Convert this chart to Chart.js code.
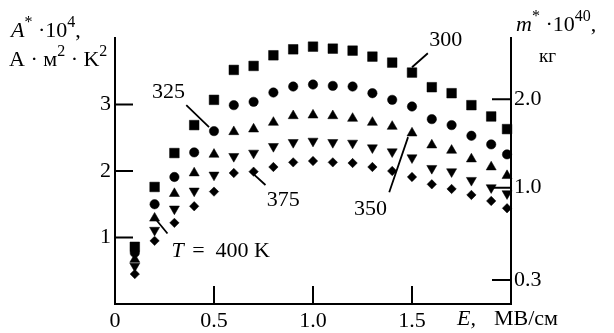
<!DOCTYPE html>
<html>
<head>
<meta charset="utf-8">
<script src="https://cdn.jsdelivr.net/npm/chart.js@4.4.1/dist/chart.umd.min.js"></script>
<style>
  body { margin: 0; background: #fff; }
  canvas { display: block; }
</style>
</head>
<body>
<canvas id="myChart" width="614" height="333"></canvas>
<script>
// E, MV/cm
const E = [0.1, 0.2, 0.3, 0.4, 0.5, 0.6, 0.7, 0.8, 0.9, 1.0, 1.1, 1.2, 1.3, 1.4, 1.5, 1.6, 1.7, 1.8, 1.9, 1.98]
// A*·10^4 for each temperature
const a300 = [0.86, 1.76, 2.27, 2.69, 3.07, 3.52, 3.58, 3.74, 3.83, 3.87, 3.84, 3.81, 3.72, 3.63, 3.48, 3.26, 3.17, 2.99, 2.82, 2.63]
const a325 = [0.77, 1.50, 1.91, 2.28, 2.60, 2.99, 3.04, 3.18, 3.27, 3.30, 3.28, 3.27, 3.17, 3.07, 2.97, 2.78, 2.69, 2.53, 2.40, 2.25]
const a350 = [0.67, 1.29, 1.66, 1.97, 2.25, 2.59, 2.63, 2.73, 2.83, 2.84, 2.83, 2.79, 2.73, 2.67, 2.57, 2.39, 2.31, 2.18, 2.06, 1.93]
const a375 = [0.57, 1.11, 1.43, 1.70, 1.94, 2.22, 2.27, 2.37, 2.43, 2.45, 2.43, 2.42, 2.35, 2.29, 2.20, 2.04, 1.99, 1.86, 1.75, 1.66]
const a400 = [0.45, 0.95, 1.22, 1.47, 1.69, 1.97, 1.99, 2.06, 2.13, 2.15, 2.13, 2.12, 2.06, 2.00, 1.91, 1.80, 1.73, 1.64, 1.55, 1.44]

const xTicks = [0, 0.5, 1.0, 1.5]
const xTickLabels = ['0', '0.5', '1.0', '1.5']
const yTicks = [1, 2, 3]
const yTickLabels = ['1', '2', '3']
// right axis (m*·10^40): positions on the left scale, and their labels
const y2TickPos = [3.08, 1.75, 0.36]
const y2TickLabels = ['2.0', '1.0', '0.3']

// curve labels: [text, x, y, leader x1, y1, x2, y2] in data units
const curveLabels = [
  ['300', 1.67, 3.97, 1.58, 3.77, 1.50, 3.56],
  ['325', 0.27, 3.19, 0.36, 2.99, 0.475, 2.66],
  ['350', 1.29, 1.43, 1.385, 1.68, 1.48, 2.51],
  ['375', 0.85, 1.56, 0.69, 1.98, 0.76, 1.79]
]

const FONT = '"Liberation Serif", "DejaVu Serif", serif'
const tickFont = { family: FONT, size: 22 }

function pts(ys) { return ys.map((y, i) => ({ x: E[i], y: y })) }

function ds(ys, style, r, rot) {
  return {
    data: pts(ys), pointStyle: style, pointRadius: r, pointRotation: rot || 0,
    backgroundColor: '#000', borderColor: '#000', borderWidth: 0.5,
    showLine: false, clip: false
  }
}

const decor = {
  id: 'decor',
  afterDraw(chart) {
    const c = chart.ctx
    const xs = chart.scales.x, ys = chart.scales.y
    const a = chart.chartArea
    c.save()
    c.strokeStyle = '#000'
    c.lineWidth = 2
    // inward tick marks
    c.beginPath()
    yTicks.forEach(v => { const p = ys.getPixelForValue(v); c.moveTo(a.left, p); c.lineTo(a.left + 18, p) })
    xTicks.slice(1).forEach(v => { const p = xs.getPixelForValue(v); c.moveTo(p, a.bottom); c.lineTo(p, a.bottom - 18) })
    y2TickPos.forEach(v => { const p = ys.getPixelForValue(v); c.moveTo(a.right - 19, p); c.lineTo(a.right, p) })
    c.stroke()

    // leader lines
    c.lineWidth = 1.8
    c.beginPath()
    curveLabels.forEach(l => {
      c.moveTo(xs.getPixelForValue(l[3]), ys.getPixelForValue(l[4]))
      c.lineTo(xs.getPixelForValue(l[5]), ys.getPixelForValue(l[6]))
    })
    c.moveTo(xs.getPixelForValue(0.21), ys.getPixelForValue(1.26))
    c.lineTo(xs.getPixelForValue(0.265), ys.getPixelForValue(1.06))
    c.stroke()

    c.fillStyle = '#000'
    c.textBaseline = 'middle'
    c.textAlign = 'center'
    c.font = '22px ' + FONT
    curveLabels.forEach(l => c.fillText(l[0], xs.getPixelForValue(l[1]), ys.getPixelForValue(l[2])))

    // T = 400 K
    c.textAlign = 'left'
    let tx = xs.getPixelForValue(0.285), ty = ys.getPixelForValue(0.80)
    c.font = 'italic 22px ' + FONT
    c.fillText('T', tx, ty)
    tx += c.measureText('T ').width + 3
    c.font = '22px ' + FONT
    c.fillText('=  400 K', tx, ty)

    // run of text pieces: [text, italic, sup]
    function run(parts, x, y) {
      c.textBaseline = 'alphabetic'
      parts.forEach(p => {
        c.font = (p[1] ? 'italic ' : '') + (p[2] ? '16px ' : '22px ') + FONT
        c.fillText(p[0], x, p[2] ? y - 10 : y)
        x += c.measureText(p[0]).width
      })
    }
    // left axis title
    run([['A', true], ['*', false, true], [' ·10', false], ['4', false, true], [',', false]], 11, 37)
    run([['A · м', false], ['2', false, true], [' · K', false], ['2', false, true]], 9, 66)
    // right axis title
    run([['m', true], ['*', false, true], [' ·10', false], ['40', false, true], [',', false]], 516, 31)
    c.font = '19px ' + FONT
    c.fillText('кг', 539, 62)
    // x axis title
    c.textBaseline = 'middle'
    c.font = 'italic 22px ' + FONT
    c.fillText('E,', 457, 319)
    c.font = '22px ' + FONT
    c.fillText('МВ/см', 494, 319)
    c.restore()
  }
}

const $ctx = document.getElementById('myChart').getContext('2d')

new Chart($ctx, {
  type: 'scatter',
  data: {
    datasets: [
      ds(a300, 'rect', 6.8),
      ds(a325, 'circle', 4.7),
      ds(a350, 'triangle', 5.8),
      ds(a375, 'triangle', 5.8, 180),
      ds(a400, 'rectRot', 4.7)
    ]
  },
  options: {
    responsive: false,
    animation: false,
    layout: { padding: { top: 38, left: 0, right: 0, bottom: 0 } },
    plugins: { legend: { display: false }, tooltip: { enabled: false } },
    scales: {
      x: {
        type: 'linear', min: 0, max: 2,
        grid: { display: false, drawTicks: false },
        border: { display: true, color: '#000', width: 2 },
        afterBuildTicks: s => { s.ticks = xTicks.map(v => ({ value: v })) },
        ticks: { font: tickFont, color: '#000', padding: 4, maxRotation: 0,
          callback: (v) => xTickLabels[xTicks.indexOf(v)] },
        afterFit: s => { s.height = 29 }
      },
      y: {
        position: 'left', min: 0, max: 4,
        grid: { display: false, drawTicks: false },
        border: { display: true, color: '#000', width: 2 },
        afterBuildTicks: s => { s.ticks = yTicks.map(v => ({ value: v })) },
        ticks: { font: tickFont, color: '#000', padding: 4,
          callback: (v) => yTickLabels[yTicks.indexOf(v)] },
        afterFit: s => { s.width = 115 }
      },
      y2: {
        position: 'right', min: 0, max: 4,
        grid: { display: false, drawTicks: false },
        border: { display: true, color: '#000', width: 2 },
        afterBuildTicks: s => { s.ticks = y2TickPos.map(v => ({ value: v })) },
        ticks: { font: tickFont, color: '#000', padding: 3,
          callback: (v) => y2TickLabels[y2TickPos.indexOf(v)] },
        afterFit: s => { s.width = 103 }
      }
    }
  },
  plugins: [decor]
})
</script>
</body>
</html>
